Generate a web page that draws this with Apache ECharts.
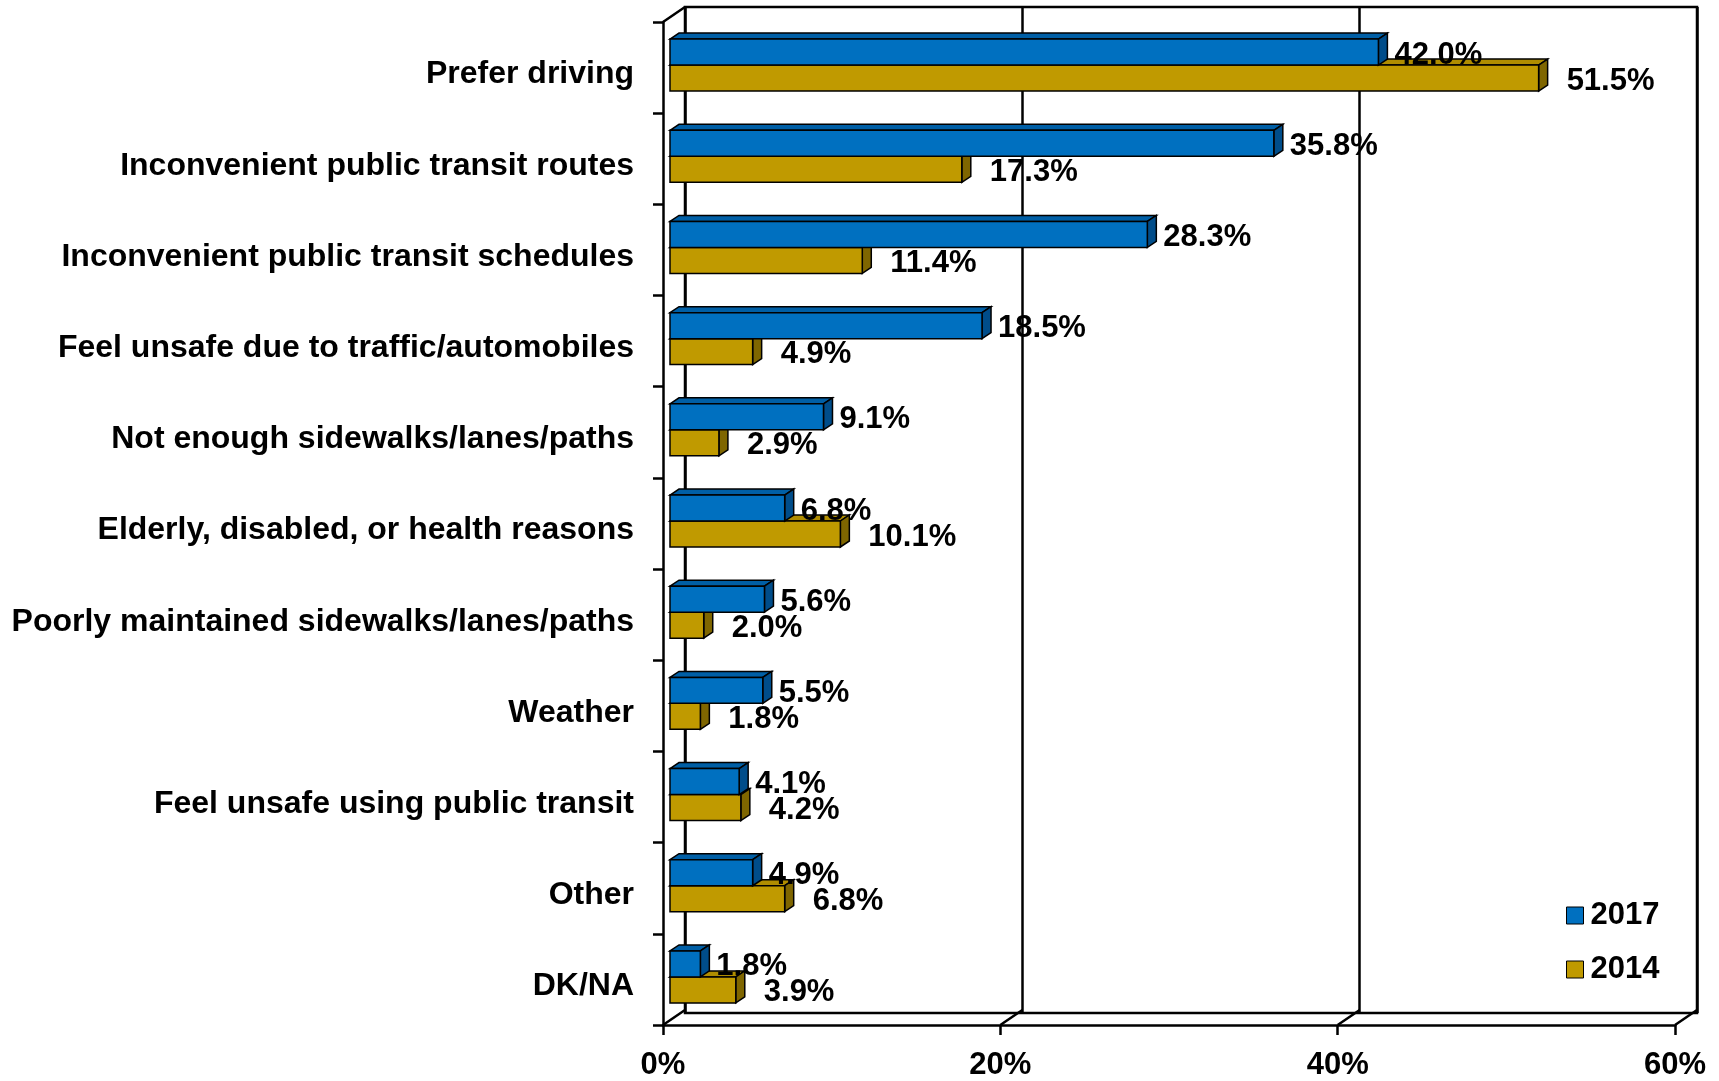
<!DOCTYPE html>
<html>
<head>
<meta charset="utf-8">
<title>Reasons for not walking / biking / transit</title>
<script src="https://cdn.jsdelivr.net/npm/echarts@6/dist/echarts.min.js"></script>
<style>
  html, body { margin: 0; padding: 0; background: #fff; }
  #main { width: 1719px; height: 1081px; }
</style>
</head>
<body>
<div id="main"></div>
<script>
// categories, top to bottom
const categories = [
  "Prefer driving",
  "Inconvenient public transit routes",
  "Inconvenient public transit schedules",
  "Feel unsafe due to traffic/automobiles",
  "Not enough sidewalks/lanes/paths",
  "Elderly, disabled, or health reasons",
  "Poorly maintained sidewalks/lanes/paths",
  "Weather",
  "Feel unsafe using public transit",
  "Other",
  "DK/NA"
];
const values2017 = [42.0, 35.8, 28.3, 18.5, 9.1, 6.8, 5.6, 5.5, 4.1, 4.9, 1.8];
const values2014 = [51.5, 17.3, 11.4, 4.9, 2.9, 10.1, 2.0, 1.8, 4.2, 6.8, 3.9];
const xTicks = [0, 20, 40, 60];

const FONT = "'Liberation Sans', Arial, sans-serif";
const BLUE = { front: "#0070C0", top: "#005FA6", side: "#004D8A" };
const GOLD = { front: "#C09A00", top: "#B08D00", side: "#7F6600" };

// 3d look: depth of the whole box and of the bars
const BOX_DX = 22, BOX_DY = 15;
const BAR_DX = 9, BAR_DY = 6;
const BAR_OX = 7, BAR_OY = -2.5;
const BAR_FRAC = 0.285;

function barRenderer(colors, upper, labelGap) {
  return function (params, api) {
    const idx = api.value(1);
    const val = api.value(0);
    const start = api.coord([0, idx]);
    const end = api.coord([val, idx]);
    const band = api.size([0, 1])[1];
    const h = band * BAR_FRAC;
    const top = (upper ? start[1] - h : start[1]) + BAR_OY;
    const x0 = start[0] + BAR_OX;
    const x1 = end[0] + BAR_OX;
    const stroke = { stroke: "#000", lineWidth: 1.5 };
    return {
      type: "group",
      children: [
        {
          type: "polygon",
          shape: { points: [[x0, top], [x0 + BAR_DX, top - BAR_DY], [x1 + BAR_DX, top - BAR_DY], [x1, top]] },
          style: Object.assign({ fill: colors.top }, stroke)
        },
        {
          type: "polygon",
          shape: { points: [[x1, top], [x1 + BAR_DX, top - BAR_DY], [x1 + BAR_DX, top + h - BAR_DY], [x1, top + h]] },
          style: Object.assign({ fill: colors.side }, stroke)
        },
        {
          type: "rect",
          shape: { x: x0, y: top, width: x1 - x0, height: h },
          style: Object.assign({ fill: colors.front }, stroke)
        },
        {
          type: "text",
          z2: 50,
          style: {
            x: x1 + BAR_DX + labelGap,
            y: top + h / 2 + 3,
            text: val.toFixed(1) + "%",
            fill: "#000",
            font: "bold 31px " + FONT,
            verticalAlign: "middle",
            align: "left"
          }
        }
      ]
    };
  };
}

// floor diagonals and the top-left corner of the box
function frameRenderer(params, api) {
  const v = api.value(0);
  const x = api.coord([v, 0])[0];
  const cs = params.coordSys;
  const bottom = cs.y + cs.height;
  const line = { stroke: "#000", lineWidth: 2.5 };
  const children = [
    { type: "line", shape: { x1: x, y1: bottom, x2: x + BOX_DX, y2: bottom - BOX_DY }, style: line }
  ];
  if (v === 0) {
    children.push({ type: "line", shape: { x1: x, y1: cs.y, x2: x + BOX_DX, y2: cs.y - BOX_DY }, style: line });
  }
  return { type: "group", children: children };
}

const chart = echarts.init(document.getElementById("main"));

const option = {
  animation: false,
  backgroundColor: "#fff",
  textStyle: { fontFamily: FONT },
  legend: {
    orient: "vertical",
    left: 1566,
    top: 900,
    padding: 0,
    itemWidth: 17,
    itemHeight: 17,
    itemGap: 23,
    textStyle: { fontFamily: FONT, fontWeight: "bold", fontSize: 31, color: "#000", padding: [0, 0, 0, 2] },
    data: [
      { name: "2017", icon: "rect", itemStyle: { color: BLUE.front, borderColor: "#000", borderWidth: 1 } },
      { name: "2014", icon: "rect", itemStyle: { color: GOLD.front, borderColor: "#000", borderWidth: 1 } }
    ]
  },
  grid: [
    // back wall
    { left: 663 + BOX_DX, top: 22 - BOX_DY, width: 1012, height: 1006, show: true, borderColor: "#000", borderWidth: 2.5, backgroundColor: "transparent" },
    // front plane
    { left: 663, top: 22, width: 1012, height: 1006 }
  ],
  xAxis: [
    {
      gridIndex: 0, type: "value", min: 0, max: 60, interval: 20,
      axisLine: { show: false }, axisTick: { show: false }, axisLabel: { show: false },
      splitLine: { show: true, lineStyle: { color: "#000", width: 2.5 } }
    },
    {
      gridIndex: 1, type: "value", min: 0, max: 60, interval: 20,
      axisLine: { show: true, lineStyle: { color: "#000", width: 2.5 } },
      axisTick: { show: true, length: 10, lineStyle: { color: "#000", width: 2.5 } },
      axisLabel: { formatter: "{value}%", fontFamily: FONT, fontWeight: "bold", fontSize: 31, color: "#000", margin: 25 },
      splitLine: { show: false }
    }
  ],
  yAxis: [
    { gridIndex: 0, type: "value", show: false },
    {
      gridIndex: 1, type: "category", data: categories, inverse: true,
      axisLine: { show: true, lineStyle: { color: "#000", width: 2.5 } },
      axisTick: { show: true, length: 10, lineStyle: { color: "#000", width: 2.5 } },
      axisLabel: {
        fontFamily: FONT, fontWeight: "bold", fontSize: 32, color: "#000", margin: 29,
        verticalAlign: "top", lineHeight: 14
      },
      splitLine: { show: false }
    }
  ],
  series: [
    {
      name: "frame", type: "custom", xAxisIndex: 1, yAxisIndex: 1, silent: true, z: 1,
      renderItem: frameRenderer,
      data: xTicks.map(v => [v, 0])
    },
    {
      name: "2014", type: "custom", xAxisIndex: 1, yAxisIndex: 1, z: 3,
      itemStyle: { color: GOLD.front },
      renderItem: barRenderer(GOLD, false, 19),
      encode: { x: 0, y: 1 },
      data: values2014.map((v, i) => [v, i])
    },
    {
      name: "2017", type: "custom", xAxisIndex: 1, yAxisIndex: 1, z: 4,
      itemStyle: { color: BLUE.front },
      renderItem: barRenderer(BLUE, true, 7),
      encode: { x: 0, y: 1 },
      data: values2017.map((v, i) => [v, i])
    }
  ]
};

chart.setOption(option);
</script>
</body>
</html>
